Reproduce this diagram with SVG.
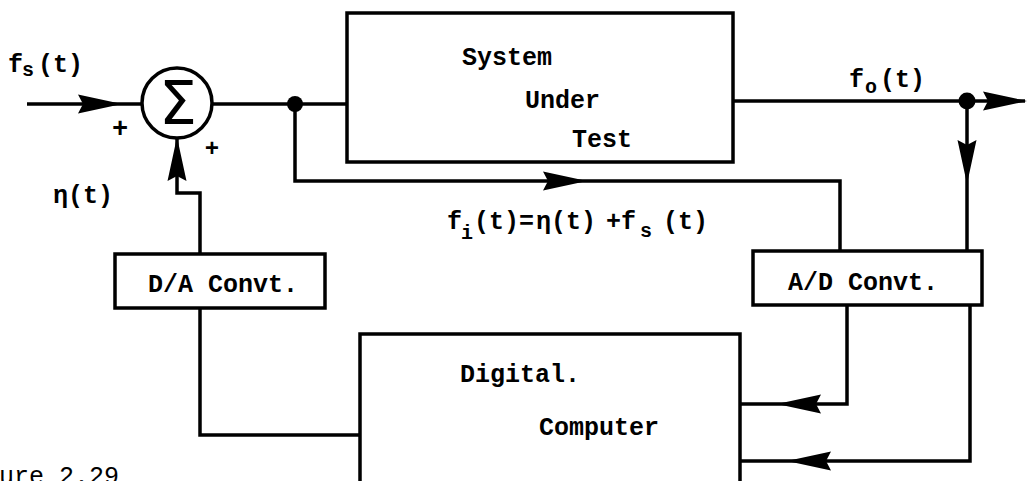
<svg xmlns="http://www.w3.org/2000/svg" xmlns:xlink="http://www.w3.org/1999/xlink" width="1027" height="481" viewBox="0 0 1027 481">
<style>
.box{fill:#fff;stroke:#000;stroke-width:3.5}
.ln{fill:none;stroke:#000;stroke-width:3.5;stroke-linejoin:miter}
.t{font-family:"Liberation Mono","Courier New",monospace;font-size:25px;font-weight:bold;fill:#000}
.sub{font-size:20px}
.ah{fill:#000}
</style>
<defs>
<path id="ah" d="M0,0 L-44,-9.5 L-39,0 L-44,9.5 Z"/>
</defs>
<rect width="1027" height="481" fill="#fff"/>

<g id="connectors">
<path class="ln" d="M27,104 H142"/>
<path class="ln" d="M212,104 H347"/>
<path class="ln" d="M295,104 V181 H840 V251"/>
<path class="ln" d="M733,101 H1025"/>
<path class="ln" d="M967,101 V251"/>
<path class="ln" d="M847,305 V404 H740"/>
<path class="ln" d="M970,305 V461 H740"/>
<path class="ln" d="M200,308 V435 H360"/>
<path class="ln" d="M200,254 V193 H177 V138"/>
<circle cx="295" cy="104" r="8" fill="#000"/>
<circle cx="967" cy="101" r="8.5" fill="#000"/>
<use xlink:href="#ah" class="ah" transform="translate(122,104)"/>
<use xlink:href="#ah" class="ah" transform="translate(177,137) rotate(-90)"/>
<use xlink:href="#ah" class="ah" transform="translate(587,181)"/>
<use xlink:href="#ah" class="ah" transform="translate(1027,101)"/>
<use xlink:href="#ah" class="ah" transform="translate(967,184) rotate(90)"/>
<use xlink:href="#ah" class="ah" transform="translate(777,404) rotate(180)"/>
<use xlink:href="#ah" class="ah" transform="translate(787,461) rotate(180)"/>
</g>

<g id="sum">
<circle cx="177" cy="103" r="35" fill="#fff" stroke="#000" stroke-width="3.5"/>
<text x="178" y="124" text-anchor="middle" font-family="DejaVu Sans, sans-serif" font-size="60" fill="#000">Σ</text>
<text x="120" y="137" text-anchor="middle" class="t" style="font-size:27px">+</text>
<text x="212" y="156" text-anchor="middle" class="t" style="font-size:24px">+</text>
</g>

<g id="sut">
<rect class="box" x="347" y="13" width="386" height="149"/>
<text class="t" x="462" y="65">System</text>
<text class="t" x="525" y="108">Under</text>
<text class="t" x="572" y="147">Test</text>
</g>

<g id="da">
<rect class="box" x="115" y="254" width="210" height="54"/>
<text class="t" x="148" y="292">D/A Convt.</text>
</g>

<g id="ad">
<rect class="box" x="753" y="251" width="229" height="54"/>
<text class="t" x="788" y="290">A/D Convt.</text>
</g>

<g id="computer">
<rect class="box" x="360" y="334" width="380" height="160"/>
<text class="t" x="460" y="382">Digital.</text>
<text class="t" x="539" y="435">Computer</text>
</g>

<g id="labels">
<text class="t" x="8" y="72">f<tspan class="sub" x="22" y="76">s</tspan><tspan x="38" y="72">(t)</tspan></text>
<text class="t" x="53" y="203">η(t)</text>
<text class="t" x="849" y="87">f<tspan class="sub" x="865" y="93">o</tspan><tspan x="880" y="87">(t)</tspan></text>
<text class="t" x="447" y="229">f<tspan class="sub" x="461" y="239">i</tspan><tspan x="474" y="229">(t)=</tspan><tspan x="536" y="229">η(t)</tspan><tspan x="606" y="229">+f</tspan><tspan class="sub" x="640" y="237">s</tspan><tspan x="663" y="229">(t)</tspan></text>
<text class="t" x="-1" y="484" style="font-weight:normal">ure 2.29</text>
</g>
</svg>
